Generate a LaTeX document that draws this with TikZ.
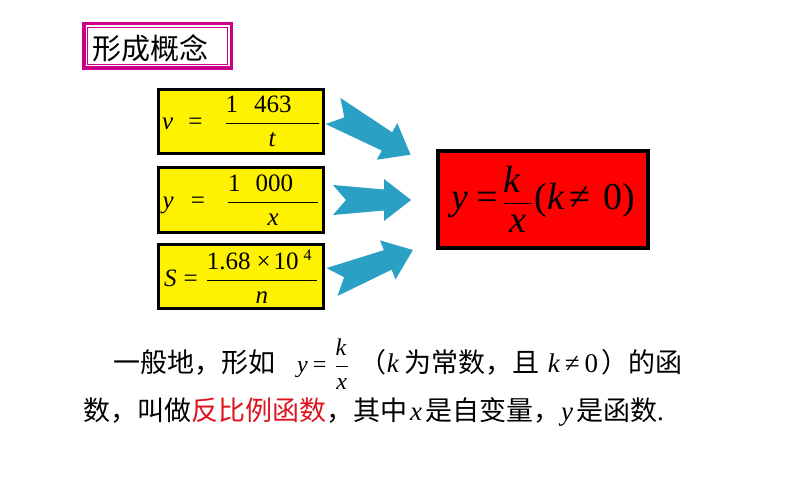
\documentclass[tikz,border=0pt]{standalone}
\usepackage{fontspec}
\setmainfont{Liberation Serif}
\newfontfamily\cjk{Noto Sans CJK SC}
\usepackage{tikz}

\definecolor{arrc}{RGB}{42,160,196}
\definecolor{magc}{RGB}{204,0,136}
\definecolor{redtxt}{RGB}{220,20,30}

\newcommand\vi[1]{{\normalfont\itshape #1}}
\newcommand\fr[3]{$\displaystyle\frac{\makebox[#3][l]{#1}}{\makebox[#3]{#2}}$}

\begin{document}
\begin{tikzpicture}[x=1pt,y=1pt,%
  tframe/.style={draw=magc},
  ybox/.style={fill=yellow,draw,line width=3,minimum width=165,minimum height=64,inner sep=0pt,
    font=\fontsize{25}{30}\selectfont},
  rbox/.style={fill=red,draw,line width=4,minimum width=210,minimum height=97,inner sep=0pt,
    font=\fontsize{38}{44}\selectfont},
  txt/.style={anchor=base west,inner sep=0pt,font=\fontsize{27}{30}\selectfont},
  pics/notcharrow/.style={code={
    \fill[arrc] (0,15) -- ({#1-27},10.5) -- ({#1-27},21) -- (#1,0) -- ({#1-27},-21)
      -- ({#1-27},-10.5) -- (0,-15) -- (13,0) -- cycle;}}]
  \useasboundingbox (0,0) rectangle (794,496);

  % title
  \node[font=\fontsize{29}{32}\selectfont\cjk] (title) at (150,447.5) {形成概念};
  \draw[tframe,line width=3.5] (83.75,472.25) rectangle (231.25,427.75);
  \draw[tframe,line width=1] (87.5,468.5) rectangle (227.5,431.5);

  % three formulas
  \node[ybox] (b1) at (241,374.5)
    {\vi{v}\hspace{15pt}=\hspace{22pt}\fr{1\hspace{16pt}463}{\vi{t}}{93pt}};
  \node[ybox] (b2) at (241,296)
    {\vi{y}\hspace{17pt}=\hspace{22pt}\fr{1\hspace{15pt}000}{\vi{x}}{90pt}};
  \node[ybox] (b3) at (241,219.5)
    {\vi{S}\hspace{7pt}=\hspace{8pt}\fr{1.68\hspace{6pt}×\hspace{3pt}10\hspace{5pt}\raisebox{9pt}{\fontsize{16}{16}\selectfont 4}}{\vi{n}}{110pt}};

  \node[rbox] (res) at (543,296.5)
    {\vi{y}\hspace{8pt}=\hspace{5pt}\fr{\vi{k}}{\raisebox{-6pt}{\vi{x}}}{28pt}\hspace{2pt}(\vi{k}\hspace{5pt}≠\hspace{13pt}0)};

  \coordinate (a1) at (333,385);
  \coordinate (a2) at (333,296);
  \coordinate (a3) at (332,214);
  \pic[rotate=-29.4] at (a1) {notcharrow=89};
  \pic at (a2) {notcharrow=78};
  \pic[rotate=21.6] at (a3) {notcharrow=87};

  % definition
  \node[txt] (l1) at (113,124) {{\cjk 一般地，形如}\hspace{22pt}%
    {\fontsize{24}{28}\selectfont\vi{y}\hspace{5pt}=\hspace{8pt}\fr{\vi{k}}{\vi{x}}{12pt}}\hspace{11pt}%
    {\cjk （}\vi{k}\hspace{6pt}{\cjk 为常数，且}\hspace{8pt}\vi{k}\hspace{5pt}≠\hspace{5pt}0\hspace{3pt}{\cjk ）的函}};
  \node[txt] (l2) at (83,76) {{\cjk 数，叫做{\color{redtxt}反比例函数}，其中}\hspace{3pt}\vi{x}\hspace{3pt}%
    {\cjk 是自变量，}\hspace{1pt}\vi{y}\hspace{3pt}{\cjk 是函数}.};
\end{tikzpicture}
\end{document}
